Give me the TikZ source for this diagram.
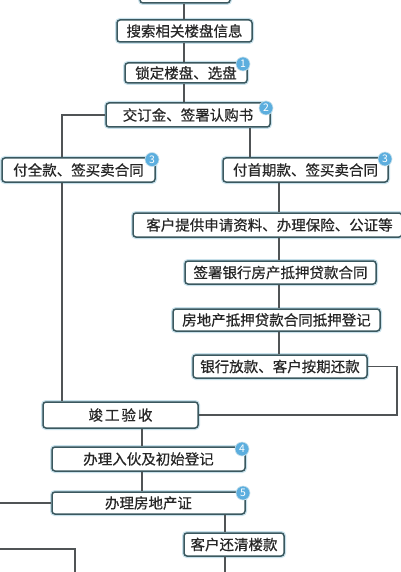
\documentclass[tikz,border=0pt]{standalone}
\usepackage{fontspec}
\setmainfont{Noto Sans CJK SC}[BoldFont={Noto Sans CJK SC},BoldFeatures={FakeBold=0.5}]
\usetikzlibrary{calc}
\definecolor{boxline}{RGB}{58,88,95}
\definecolor{glow}{RGB}{200,225,235}
\definecolor{conn}{RGB}{80,84,86}
\definecolor{badgefill}{RGB}{92,174,222}
\tikzset{
  box/.style={draw=boxline, line width=1.5pt, fill=white, rounded corners=3pt,
    preaction={draw=glow, line width=4pt},
    inner sep=0pt, font=\fontsize{14.5}{16}\selectfont\bfseries, text=black!85},
  badge/.style={circle, fill=badgefill, draw=glow, line width=0.6pt, minimum size=14pt, inner sep=0pt,
    text=white, font=\fontsize{10.5}{10.5}\selectfont},
  conn/.style={draw=conn, line width=1.3pt}
}
\begin{document}
\begin{tikzpicture}[x=1pt,y=-1pt]
\useasboundingbox (0,0) rectangle (400,572);
\fill[white] (0,0) rectangle (400,572);
% free ends
\coordinate (leftend) at (-2,503);
\coordinate (bottomend) at (225,574);
\coordinate (blA) at (-2,549);
\coordinate (blB) at (75,549);
\coordinate (blC) at (75,574);
% boxes
\node[box, minimum width=90pt, minimum height=23pt] (b0) at (185,-8.5) {};
\node[box, minimum width=135pt, minimum height=22pt] (b1) at (184.5,31) {搜索相关楼盘信息};
\node[box, minimum width=122pt, minimum height=20pt] (b2) at (186,73) {锁定楼盘、选盘};
\node[box, minimum width=164pt, minimum height=24pt] (b3) at (188,115) {交订金、签署认购书};
\node[box, minimum width=153pt, minimum height=24pt] (b4) at (78.5,170) {付全款、签买卖合同};
\node[box, minimum width=165pt, minimum height=24pt] (b5) at (305.5,170) {付首期款、签买卖合同};
\node[box, minimum width=269pt, minimum height=24pt] (b6) at (267.5,225) {\hspace*{4pt}客户提供申请资料、办理保险、公证等};
\node[box, minimum width=191pt, minimum height=23pt] (b7) at (280.5,272.5) {签署银行房产抵押贷款合同};
\node[box, minimum width=207pt, minimum height=22pt] (b8) at (276.5,320) {房地产抵押贷款合同抵押登记};
\node[box, minimum width=174pt, minimum height=23pt] (b9) at (280,366.5) {银行放款、客户按期还款};
\node[box, minimum width=155pt, minimum height=26pt] (b10) at (120.5,415) {竣\hspace{2pt}工\hspace{2pt}验\hspace{2pt}收};
\node[box, minimum width=193pt, minimum height=24pt] (b11) at (148.5,459) {办理入伙及初始登记};
\node[box, minimum width=193pt, minimum height=22pt] (b12) at (148.5,503) {办理房地产证};
\node[box, minimum width=100pt, minimum height=23pt] (b13) at (234,544.5) {客户还清楼款};
% connector x positions
\coordinate (xA) at (184,0);
\coordinate (xL) at (62,0);
\coordinate (xR) at (250,0);
\coordinate (xM) at (279,0);
\coordinate (xE) at (397,0);
\coordinate (xC) at (142,0);
\coordinate (xD) at (225,0);
% connectors
\draw[conn] (b0.south -| xA) -- (b1.north -| xA);
\draw[conn] (b1.south -| xA) -- (b2.north -| xA);
\draw[conn] (b2.south -| xA) -- (b3.north -| xA);
\draw[conn] (b3.south -| xR) -- (b5.north -| xR);
\draw[conn] (b3.west) -| (b4.north -| xL);
\draw[conn] (b4.south -| xL) -- (b10.north -| xL);
\draw[conn] (b5.south -| xM) -- (b6.north -| xM);
\draw[conn] (b6.south -| xM) -- (b7.north -| xM);
\draw[conn] (b7.south -| xM) -- (b8.north -| xM);
\draw[conn] (b8.south -| xM) -- (b9.north -| xM);
\draw[conn] (b9.east) -| (b10.east -| xE) -- (b10.east);
\draw[conn] (b10.south -| xC) -- (b11.north -| xC);
\draw[conn] (b11.south -| xC) -- (b12.north -| xC);
\draw[conn] (b12.south -| xD) -- (b13.north -| xD);
\draw[conn] (b13.south -| xD) -- (bottomend);
\draw[conn] (b12.west) -- (leftend);
\draw[conn] (blA) -- (blB) -- (blC);
% badges
\node[badge] (n1) at (243,64) {1};
\node[badge] (n2) at (266,108) {2};
\node[badge] (n3a) at (152,159.5) {3};
\node[badge] (n3b) at (385,159) {3};
\node[badge] (n4) at (242,449) {4};
\node[badge] (n5) at (243,493) {5};
\end{tikzpicture}
\end{document}
